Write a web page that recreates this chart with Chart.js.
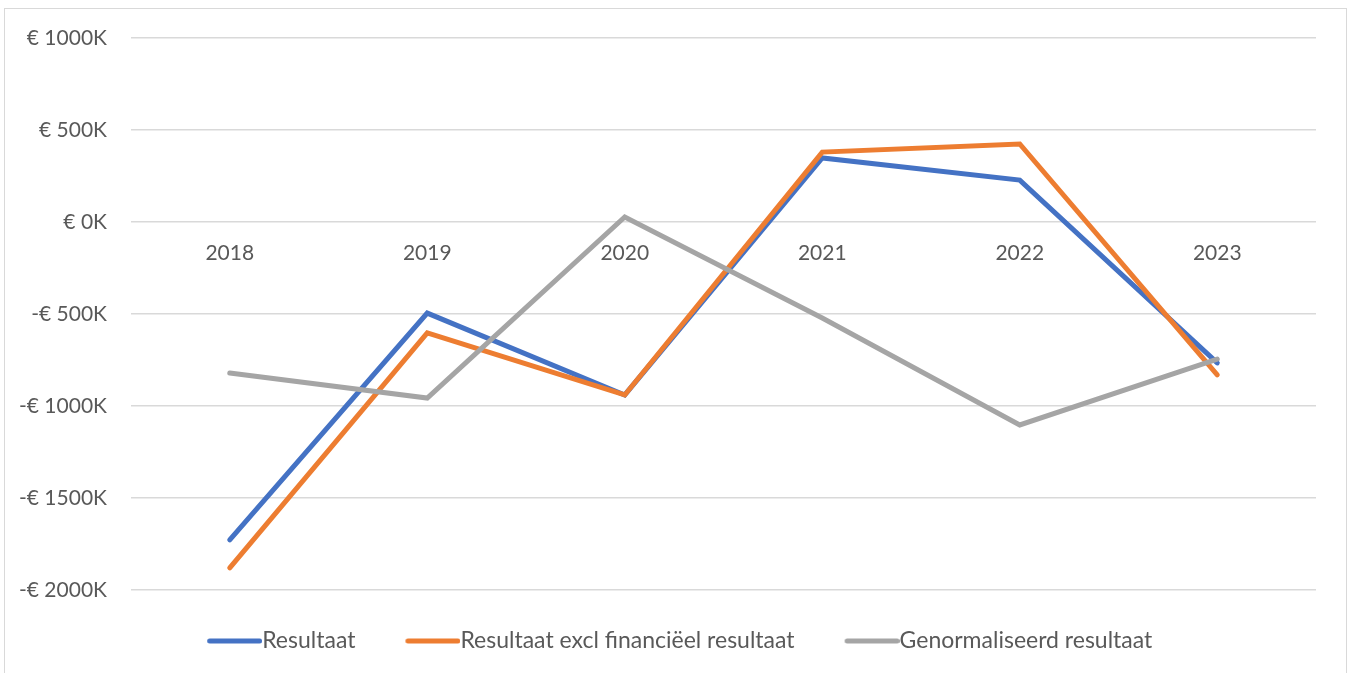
<!DOCTYPE html>
<html>
<head>
<meta charset="utf-8">
<script src="https://cdn.jsdelivr.net/npm/chart.js@4/dist/chart.umd.min.js"></script>
<style>
  html, body { margin: 0; padding: 0; background: #ffffff; overflow: hidden; }
  #wrap { position: relative; width: 1351px; height: 673px; }
  #frame { position: absolute; left: 4px; top: 8px; width: 1341px; height: 700px; border: 1.5px solid #D9D9D9; pointer-events: none; }
  canvas { position: absolute; left: 0; top: 0; }
</style>
</head>
<body>
<div id="wrap">
  <canvas id="c" width="1351" height="673"></canvas>
  <div id="frame"></div>
</div>
<script>
const categories = ['2018', '2019', '2020', '2021', '2022', '2023'];
const resultaat = [-1728, -495, -940, 348, 228, -766];
const resultaatExcl = [-1880, -603, -940, 380, 424, -831];
const genormaliseerd = [-821, -957, 27, -522, -1103, -745];
const seriesNames = ['Resultaat', 'Resultaat excl financiëel resultaat', 'Genormaliseerd resultaat'];
const seriesColors = ['#4472C4', '#ED7D31', '#A5A5A5'];
const yMin = -2000, yMax = 1000, yStep = 500;

function legendLine(color) {
  const c = document.createElement('canvas');
  c.width = 110; c.height = 10;
  const g = c.getContext('2d');
  g.strokeStyle = color; g.lineWidth = 5; g.lineCap = 'round';
  g.beginPath(); g.moveTo(57.5, 5); g.lineTo(107.5, 5); g.stroke();
  return c;
}

const FONT = 'Lato';
const TXT = '#595959';
const seriesData = [resultaat, resultaatExcl, genormaliseerd];
const orders = [3, 2, 1];

new Chart(document.getElementById('c'), {
  type: 'line',
  data: {
    labels: categories,
    datasets: seriesData.map((d, i) => ({
      label: seriesNames[i],
      data: d,
      borderColor: seriesColors[i],
      backgroundColor: seriesColors[i],
      borderWidth: 5,
      borderCapStyle: 'round',
      borderJoinStyle: 'miter',
      tension: 0,
      pointRadius: 0,
      pointHoverRadius: 0,
      pointStyle: legendLine(seriesColors[i]),
      order: orders[i],
      clip: false
    }))
  },
  options: {
    responsive: false,
    animation: false,
    layout: { padding: { top: 38, right: 35, bottom: 10.5, left: 0 } },
    scales: {
      x: {
        type: 'category',
        offset: true,
        position: { y: 0 },
        grid: { display: false, drawTicks: false },
        border: { display: false },
        ticks: { color: TXT, font: { family: FONT, size: 21 }, padding: 19, maxRotation: 0 }
      },
      y: {
        min: yMin, max: yMax,
        afterFit: (s) => { s.width = 131; },
        grid: { color: '#D9D9D9', lineWidth: 1.5, drawTicks: false },
        border: { display: false },
        ticks: {
          stepSize: yStep,
          padding: 24,
          color: TXT,
          font: { family: FONT, size: 21 },
          callback: (v) => (v < 0 ? '-€ ' : '€ ') + Math.abs(v) + 'K'
        }
      }
    },
    plugins: {
      tooltip: { enabled: false },
      legend: {
        position: 'bottom',
        title: { display: true, text: '', font: { size: 10, lineHeight: 1 }, padding: { top: 23, bottom: 0 } },
        labels: {
          usePointStyle: true,
          pointStyleWidth: 87,
          padding: 6.5,
          color: TXT,
          font: { family: FONT, size: 23 },
          sort: (a, b) => a.datasetIndex - b.datasetIndex
        }
      }
    }
  }
});
</script>
</body>
</html>
